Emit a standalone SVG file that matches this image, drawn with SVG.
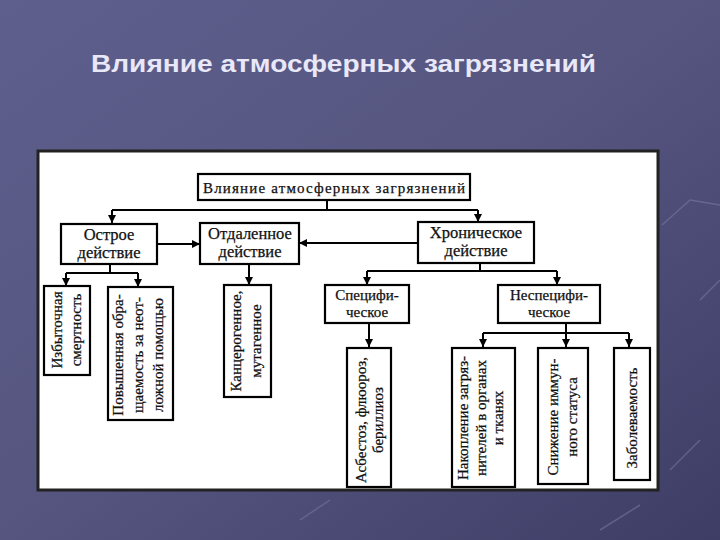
<svg xmlns="http://www.w3.org/2000/svg" width="720" height="540" viewBox="0 0 720 540">
<defs>
<linearGradient id="bg" x1="0" y1="0" x2="1" y2="1">
<stop offset="0" stop-color="#5f5f8e"/>
<stop offset="0.5" stop-color="#55557f"/>
<stop offset="1" stop-color="#3d3d66"/>
</linearGradient>
<marker id="ah" markerUnits="userSpaceOnUse" markerWidth="9" markerHeight="8" refX="8" refY="4" orient="auto">
<path d="M0,0 L8,4 L0,8 z" fill="#000"/>
</marker>
<style>
.box{fill:#fff;stroke:#000;stroke-width:2.2}
.t{font-family:"Liberation Serif","Times New Roman",serif;font-size:15px;fill:#111;text-anchor:middle;stroke:#111;stroke-width:0.25}
.h{font-size:16.5px}
.s{font-size:15px}
.c{fill:none;stroke:#000;stroke-width:2}
.a{fill:none;stroke:#000;stroke-width:2;marker-end:url(#ah)}
.deco{stroke:#8080aa;stroke-width:1.5;fill:none;opacity:0.5}
</style>
</defs>
<rect x="0" y="0" width="720" height="540" fill="url(#bg)"/>
<g class="deco">
<path d="M662,225 L690,200"/><path d="M690,200 L720,205"/><path d="M700,300 L720,280"/><path d="M670,470 L700,440"/><path d="M300,520 L330,500"/><path d="M600,530 L640,505"/>
</g>
<text x="91" y="72" font-family="Liberation Sans, Arial, sans-serif" font-weight="bold" font-size="24" fill="#e8e8f8" textLength="505" lengthAdjust="spacingAndGlyphs">Влияние атмосферных загрязнений</text>
<rect x="38" y="151" width="620" height="339" fill="#fff" stroke="#222" stroke-width="3"/>

<g id="connectors">
<path class="c" d="M327,200 V210 M112,210 H478"/>
<path class="a" d="M112,210 V223"/>
<path class="a" d="M478,210 V222"/>
<path class="a" d="M157,244 H200"/>
<path class="a" d="M418,243 H299"/>
<path class="c" d="M110,264 V273 M66,273 H138"/>
<path class="a" d="M66,273 V286"/>
<path class="a" d="M138,273 V287"/>
<path class="a" d="M249,264 V285"/>
<path class="c" d="M480,263 V271 M367,271 H557"/>
<path class="a" d="M367,271 V285"/>
<path class="a" d="M557,271 V285"/>
<path class="a" d="M369,323 V347"/>
<path class="c" d="M566,323 V333 M483,333 H629"/>
<path class="a" d="M483,333 V347"/>
<path class="a" d="M566,333 V347"/>
<path class="a" d="M629,333 V347"/>
</g>

<g id="root"><rect class="box" x="198" y="174" width="272" height="26"/><text class="t" x="334" y="193" font-size="17.5" textLength="262" lengthAdjust="spacing">Влияние атмосферных загрязнений</text></g>
<g id="acute"><rect class="box" x="61" y="224" width="96" height="40"/><text class="t h" x="109" y="240">Острое</text><text class="t h" x="109" y="258">действие</text></g>
<g id="delayed"><rect class="box" x="200" y="223" width="99" height="41"/><text class="t h" x="250" y="239">Отдаленное</text><text class="t h" x="250" y="257">действие</text></g>
<g id="chronic"><rect class="box" x="418" y="222" width="116" height="41"/><text class="t h" x="476" y="238">Хроническое</text><text class="t h" x="476" y="256">действие</text></g>
<g id="specific"><rect class="box" x="325" y="285" width="84" height="38"/><text class="t s" x="367" y="300">Специфи-</text><text class="t s" x="367" y="317">ческое</text></g>
<g id="nonspecific"><rect class="box" x="498" y="285" width="102" height="38"/><text class="t s" x="549" y="300">Неспецифи-</text><text class="t s" x="549" y="317">ческое</text></g>

<g id="mortality"><rect class="box" x="44" y="286" width="46" height="89"/>
<g transform="translate(67,330) rotate(-90)"><text class="t" x="0" y="-5" font-size="16">Избыточная</text><text class="t" x="0" y="14" font-size="16">смертность</text></g></g>
<g id="emergency"><rect class="box" x="108" y="287" width="65" height="133"/>
<g transform="translate(140,355) rotate(-90)"><text class="t" x="0" y="-17">Повышенная обра-</text><text class="t" x="0" y="3">щаемость за неот-</text><text class="t" x="0" y="23">ложной помощью</text></g></g>
<g id="cancer"><rect class="box" x="224" y="285" width="47" height="112"/>
<g transform="translate(247,341) rotate(-90)"><text class="t" x="0" y="-6" font-size="16">Канцерогенное,</text><text class="t" x="0" y="14">мутагенное</text></g></g>
<g id="asbestosis"><rect class="box" x="347" y="348" width="44" height="139"/>
<g transform="translate(369,420) rotate(-90)"><text class="t" x="0" y="-3">Асбестоз, флюороз,</text><text class="t" x="0" y="14">бериллиоз</text></g></g>
<g id="accumulation"><rect class="box" x="452" y="348" width="63" height="139"/>
<g transform="translate(483,418) rotate(-90)"><text class="t" x="0" y="-15">Накопление загряз-</text><text class="t" x="0" y="3">нителей в органах</text><text class="t" x="0" y="20">и тканях</text></g></g>
<g id="immune"><rect class="box" x="538" y="348" width="50" height="136"/>
<g transform="translate(563,417) rotate(-90)"><text class="t" x="0" y="-5">Снижение иммун-</text><text class="t" x="0" y="14">ного статуса</text></g></g>
<g id="morbidity"><rect class="box" x="614" y="348" width="36" height="132"/>
<g transform="translate(632,418) rotate(-90)"><text class="t" x="0" y="5">Заболеваемость</text></g></g>
</svg>
